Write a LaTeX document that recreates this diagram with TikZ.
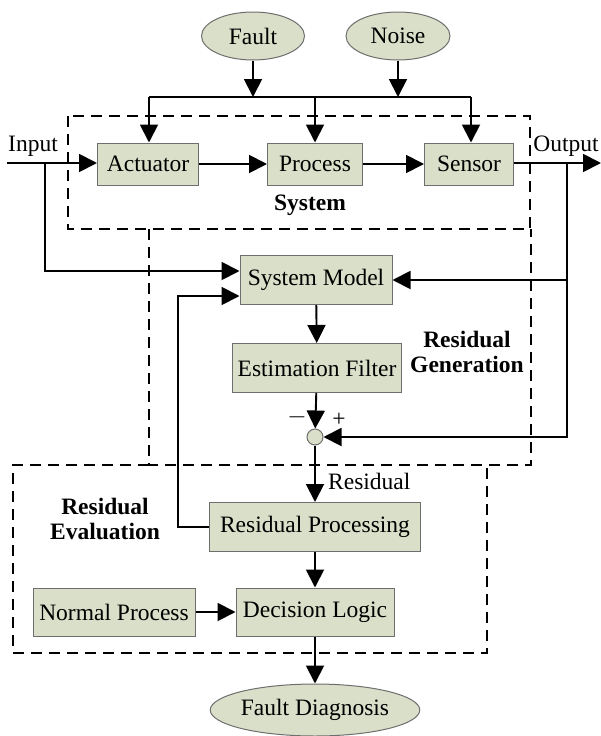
\documentclass[tikz,border=0pt]{standalone}
\usepackage{fontspec}
\setmainfont{Liberation Serif}
\usepackage{tikz}
\usetikzlibrary{arrows.meta,shapes.geometric}
\definecolor{boxfill}{RGB}{217,223,200}
\definecolor{boxline}{RGB}{110,110,110}

\begin{document}
\begin{tikzpicture}[x=1pt,y=-1pt]
		\tikzstyle{Block}	= [rectangle, draw=boxline, line width=1pt, fill=boxfill, inner sep=0pt, font=\fontsize{23.5}{25}\selectfont]
		\tikzstyle{Source}	= [ellipse, draw=boxline, line width=1pt, fill=boxfill, inner sep=0pt, font=\fontsize{23.5}{25}\selectfont]
		\tikzstyle{Junction}	= [circle, draw=boxline, line width=1pt, fill=boxfill, minimum size=16pt, inner sep=0pt]
		\tikzstyle{Group}	= [dashed, line width=1.7pt, dash pattern=on 11pt off 7pt]
		\tikzstyle{Flow}	= [line width=1.9pt, -{Triangle[length=18pt,width=18pt]}]
		\tikzstyle{Wire}	= [line width=1.9pt]
		\tikzstyle{Caption}	= [inner sep=0pt, align=center, font=\fontsize{23.5}{25}\selectfont]
		\tikzstyle{Heading}	= [Caption, font=\fontsize{23.5}{25}\selectfont\bfseries]

		\useasboundingbox (0,0) rectangle (601,736);

		% dashed groups
		\draw [Group] (68,116) rectangle (530,229);
		\draw [Group] (149,229) -- (149,465) -- (531,465) -- (531,229);
		\draw [Group] (149,465) -- (13,465) -- (13,653) -- (487,653) -- (487,465);

		% sources and blocks
		\node (fault) at (253,36) [Source, minimum width=103pt, minimum height=48pt] {Fault};
		\node (noise) at (398,36) [Source, minimum width=104pt, minimum height=48pt] {Noise};
		\node (act) at (148,164) [Block, minimum width=101pt, minimum height=42pt] {Actuator};
		\node (proc) at (315,164) [Block, minimum width=95pt, minimum height=42pt] {Process};
		\node (sens) at (469,164) [Block, minimum width=89pt, minimum height=42pt] {Sensor};
		\node (model) at (316,280) [Block, minimum width=152pt, minimum height=49pt] {System Model};
		\node (filt) at (317,368) [Block, minimum width=169pt, minimum height=49pt] {Estimation Filter};
		\node (sum) at (315,437) [Junction] {};
		\node (rproc) at (315,527) [Block, minimum width=211pt, minimum height=49pt] {Residual Processing};
		\node (normal) at (114,612) [Block, minimum width=162pt, minimum height=48pt] {Normal Process};
		\node (logic) at (315,612) [Block, minimum width=158pt, minimum height=48pt] {Decision Logic};
		\node (diag) at (315,710) [Source, minimum width=170pt, minimum height=52pt] {Fault Diagnosis};

		% labels
		\node (input) at (33,146) [Caption] {Input};
		\node (output) at (566,146) [Caption] {Output};
		\node (system) at (310,205) [Heading] {System};
		\node (gen) at (467,352) [Heading] {Residual\\Generation};
		\node (eval) at (105,519) [Heading] {Residual\\Evaluation};
		\node (res) at (328,481) [Caption, anchor=west] {Residual};
		\node (minus) at (297,417) [Caption] {$-$};
		\node (plus) at (339,420) [Caption] {+};

		% coordinates of the wires
		\coordinate (faultbus) at (253,97);
		\coordinate (noisebus) at (398,97);
		\coordinate (busL) at (149,97);
		\coordinate (busM) at (315,97);
		\coordinate (busR) at (471,97);
		\coordinate (inL) at (7,163);
		\coordinate (inJ) at (45,163);
		\coordinate (outJ) at (567,163);
		\coordinate (outR) at (601,163);

		\draw [Flow] (fault) to (faultbus);
		\draw [Flow] (noise) to (noisebus);
		\draw [Wire] (busL) to (busR);
		\draw [Flow] (busL) to (busL |- act.north);
		\draw [Flow] (busM) to (busM |- proc.north);
		\draw [Flow] (busR) to (busR |- sens.north);

		\draw [Flow] (inL) to (act.west |- inL);
		\draw [Flow] (act) to (proc);
		\draw [Flow] (proc) to (sens);
		\draw [Flow] (sens.east |- outR) to (outR);

		\draw [Flow] (inJ) |- ([yshift=9pt]model.west);
		\draw [Flow] (outJ) |- (model.east);
		\draw [Flow] (outJ) |- (sum.east);

		\draw [Flow] (model) to (filt);
		\draw [Flow] (filt) to (sum);
		\draw [Flow] (sum) to (rproc);
		\draw [Flow] (rproc.west) -- ++(-31,0) |- ([yshift=-16pt]model.west);
		\draw [Flow] (rproc) to (logic);
		\draw [Flow] (normal) to (logic);
		\draw [Flow] (logic) to (diag);
	\end{tikzpicture}
\end{document}
